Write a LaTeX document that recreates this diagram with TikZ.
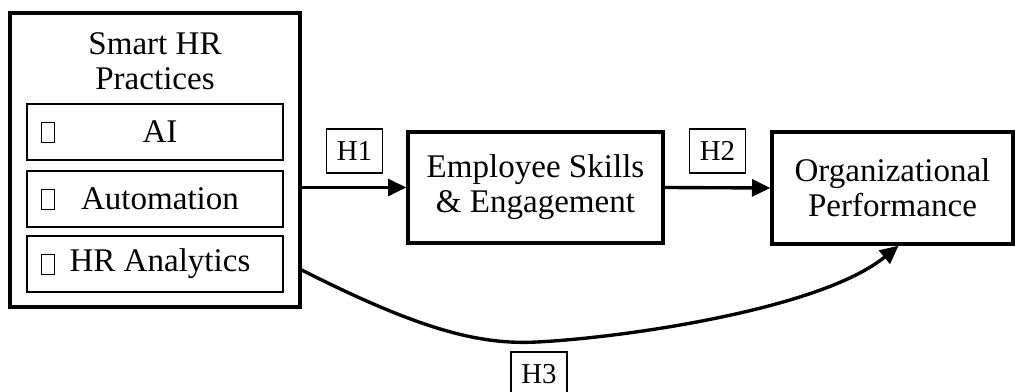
\documentclass[tikz,border=0pt]{standalone}
\usepackage{fontspec}
\setmainfont{Liberation Serif}
\usetikzlibrary{positioning,arrows.meta}

\begin{document}
\begin{tikzpicture}[x=0.025cm,y=-0.025cm,
    every node/.style={font=\fontsize{23.5}{25}\selectfont, inner sep=0pt, align=center},
    bigbox/.style={draw, line width=2.4pt},
    inbox/.style={draw, line width=1.4pt, minimum width=6.4cm, minimum height=1.4cm},
    tofu/.style={draw, line width=0.7pt, minimum width=0.32cm, minimum height=0.5cm},
    hbox/.style={draw, line width=0.8pt, minimum width=1.4cm, minimum height=1.1cm, font=\fontsize{20.5}{22}\selectfont},
    arr/.style={line width=2.4pt, -{Triangle[length=13pt,width=12pt]}}]
        \useasboundingbox (0,0) rectangle (1015,392);
        \node[bigbox, minimum width=7.25cm, minimum height=7.35cm] (smart) at (155,160) {};
        \node (title) at (155,61) {Smart HR\\Practices};
        \foreach \n/\t/\y in {ai/AI/132, auto/Automation/199, ana/HR Analytics/264} {
             \node[inbox] (\n) at (155,\y) {\hspace{0.25cm}\t};
             \node[tofu, right=0.375cm of \n.west] (\n-b) {};
        }
        \node[bigbox, minimum width=6.375cm, minimum height=2.775cm] (emp) at (535.5,187.5) {Employee Skills\\\& Engagement};
        \node[bigbox, minimum width=6.025cm, minimum height=2.8cm] (org) at (892.5,188) {Organizational\\Performance};
        \node[hbox] (h1) at (354.5,151) {H1};
        \node[hbox] (h2) at (717.5,151) {H2};
        \node[hbox] (h3) at (539,374) {H3};
        \coordinate (low) at (537,342);
        \draw[arr] (smart.east |- emp.west) -- (emp.west);
        \draw[arr] (emp.east) -- (org.west);
        \draw[arr] ([yshift=-0.15cm]smart.east |- ana.east) .. controls (420,330) and (480,345) .. (low) .. controls (620,338) and (820,310) .. ([xshift=0.15cm]org.south);
    \end{tikzpicture}
\end{document}
